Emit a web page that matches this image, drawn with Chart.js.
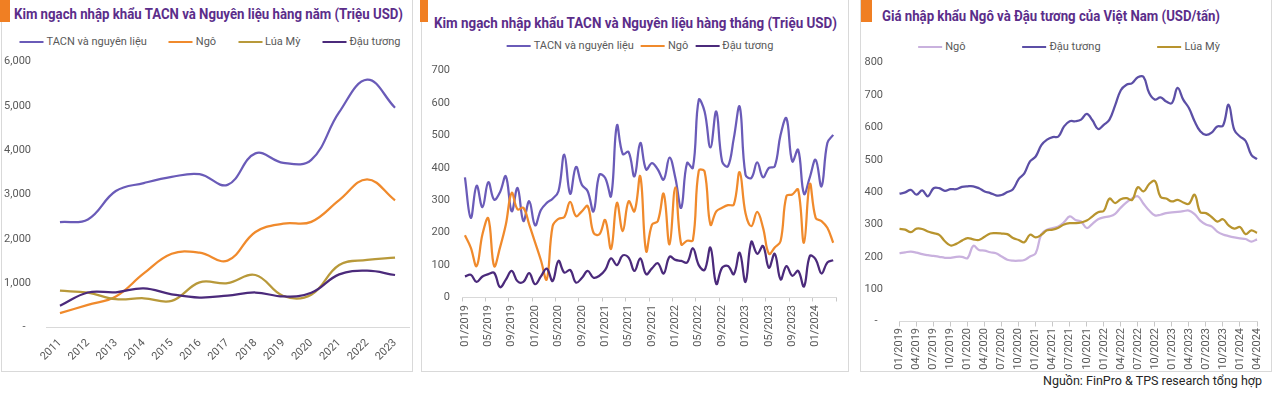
<!DOCTYPE html>
<html><head><meta charset="utf-8">
<script src="https://cdn.jsdelivr.net/npm/chart.js@4.4.1/dist/chart.umd.min.js"></script>
<style>
html,body{margin:0;padding:0;background:#fff;}
#wrap{position:relative;width:1272px;height:393px;overflow:hidden;background:#fff;font-family:Roboto,sans-serif;}
.box{position:absolute;border:1px solid #d9d9d9;border-top:none;box-sizing:border-box;}
.accent{position:absolute;background:#f07f23;}
.title{position:absolute;white-space:nowrap;font-family:Roboto,sans-serif;font-weight:bold;font-size:15px;color:#5b2d8a;line-height:1;transform-origin:0 50%;}
.legend{position:absolute;display:flex;align-items:center;white-space:nowrap;font-size:11px;color:#595959;line-height:12px;transform:translateX(-50%);}
.legend .it{display:flex;align-items:center;}
.legend .ln{display:inline-block;width:24px;height:2px;margin-right:3px;}
canvas{position:absolute;top:0;}
.src{position:absolute;right:10px;top:375px;font-size:12.5px;color:#262626;white-space:nowrap;line-height:1;}
</style></head>
<body>
<div id="wrap">
  <div class="box" style="left:1px;top:0;width:412px;height:372px"></div>
  <div class="box" style="left:421px;top:0;width:428px;height:372px"></div>
  <div class="box" style="left:860px;top:0;width:412px;height:372px"></div>
  <div class="accent" style="left:0;top:0;width:10px;height:22px"></div>
  <div class="accent" style="left:420px;top:0;width:8px;height:22px"></div>
  <div class="accent" style="left:861px;top:0;width:11px;height:22px"></div>
  <div class="title" data-w="389" style="left:14px;top:7px">Kim ngạch nhập khẩu TACN và Nguyên liệu hàng năm (Triệu USD)</div>
  <div class="title" data-w="403" style="left:434px;top:16px">Kim ngạch nhập khẩu TACN và Nguyên liệu hàng tháng (Triệu USD)</div>
  <div class="title" data-w="338" style="left:882px;top:8.5px">Giá nhập khẩu Ngô và Đậu tương của Việt Nam (USD/tấn)</div>
  <div class="legend" id="lg1" style="left:210px;top:36px;gap:22px"></div>
  <div class="legend" id="lg2" style="left:640px;top:40px;gap:7px"></div>
  <div class="legend" id="lg3" style="left:1069px;top:41px;gap:57px"></div>
  <canvas id="c1" width="415" height="372" style="left:0px;width:415px;height:372px"></canvas>
  <canvas id="c2" width="428" height="372" style="left:422px;width:428px;height:372px"></canvas>
  <canvas id="c3" width="412" height="372" style="left:860px;width:412px;height:372px"></canvas>
  <div class="src">Nguồn: FinPro &amp; TPS research tổng hợp</div>
</div>
<script>
// ---------- Panel 1: annual (million USD) ----------
const years = ['2011','2012','2013','2014','2015','2016','2017','2018','2019','2020','2021','2022','2023'];
const annTACN      = [2380, 2440, 3080, 3260, 3400, 3460, 3220, 3930, 3715, 3785, 4860, 5595, 4960];
const annNgo       = [325, 510, 700, 1220, 1665, 1690, 1510, 2155, 2345, 2385, 2875, 3345, 2870];
const annLuaMy     = [830, 785, 640, 660, 600, 1020, 1000, 1185, 710, 740, 1410, 1525, 1575];
const annDauTuong  = [490, 790, 795, 885, 750, 675, 720, 790, 700, 785, 1200, 1282, 1185];
const yTicks1 = {min:0, max:6000, step:1000};

// ---------- Months 01/2019 - 04/2024 ----------
const months = ['01/2019','02/2019','03/2019','04/2019','05/2019','06/2019','07/2019','08/2019','09/2019','10/2019','11/2019','12/2019',
'01/2020','02/2020','03/2020','04/2020','05/2020','06/2020','07/2020','08/2020','09/2020','10/2020','11/2020','12/2020',
'01/2021','02/2021','03/2021','04/2021','05/2021','06/2021','07/2021','08/2021','09/2021','10/2021','11/2021','12/2021',
'01/2022','02/2022','03/2022','04/2022','05/2022','06/2022','07/2022','08/2022','09/2022','10/2022','11/2022','12/2022',
'01/2023','02/2023','03/2023','04/2023','05/2023','06/2023','07/2023','08/2023','09/2023','10/2023','11/2023','12/2023',
'01/2024','02/2024','03/2024','04/2024'];

// ---------- Panel 2: monthly (million USD) ----------
const monTACN = [371,246,345,279,356,302,325,374,266,338,236,297,223,270,292,305,328,441,320,403,348,328,266,379,369,313,531,443,449,374,477,395,415,395,364,432,369,277,415,400,610,574,463,574,420,405,492,589,379,369,417,371,400,405,502,553,420,456,320,371,425,343,477,502];
const monNgo = [192,154,97,195,244,97,154,225,323,272,277,225,170,115,56,220,243,248,295,251,266,282,200,195,239,150,292,205,297,266,374,143,225,236,320,164,340,164,175,177,391,389,225,266,277,285,287,387,260,220,264,215,135,154,174,313,318,333,169,350,246,236,215,169];
const monDauTuong = [65,70,48,65,72,76,32,55,82,50,48,75,41,65,89,51,113,77,85,46,60,82,61,67,85,121,100,130,123,82,121,72,90,106,74,126,116,113,108,152,100,85,154,42,92,97,72,138,48,172,135,159,92,135,56,97,67,82,34,128,118,74,108,115];
const yTicks2 = {min:0, max:700, step:100};

// ---------- Panel 3: import price (USD/tonne) ----------
const priceNgo = [211,214,216,213,208,205,203,200,197,197,200,200,196,234,221,219,214,211,201,191,188,188,190,201,211,270,284,289,294,307,325,314,309,289,302,316,322,325,333,352,368,380,387,364,343,328,330,335,337,339,341,343,332,312,300,294,278,269,264,260,257,255,247,254];
const priceDauTuong = [395,399,407,392,405,387,412,412,404,409,409,416,418,418,412,402,397,390,391,400,409,440,458,495,510,545,562,570,572,603,619,619,624,642,622,595,608,624,668,715,732,737,755,756,706,686,693,680,675,722,686,660,619,588,577,584,603,605,670,592,572,558,515,502];
const priceLuaMy = [286,284,276,287,286,278,273,268,248,235,240,250,258,254,252,262,272,273,272,270,258,252,245,268,260,268,282,284,290,300,304,304,306,312,325,338,342,380,366,378,381,376,415,402,425,434,385,380,371,376,368,364,392,338,335,323,309,316,297,287,292,270,282,274];
const yTicks3 = {min:0, max:800, step:100};

const FONT = {family:'Roboto', size:11};
const TXT = '#595959';
const AXIS = '#d9d9d9';

// fit title widths to the reference widths
document.querySelectorAll('.title').forEach(el=>{
  const w = el.getBoundingClientRect().width;
  const target = parseFloat(el.dataset.w);
  if (w > 0) el.style.transform = 'scaleX(' + (target / w) + ')';
});

function ds(label, data, color, order){
  return {label, data, borderColor:color, backgroundColor:color, borderWidth:2.25,
          pointRadius:0, pointHoverRadius:0, tension:0.4, fill:false, order};
}
function legend(id, datasets){
  const el = document.getElementById(id);
  datasets.forEach(d=>{
    const it = document.createElement('span'); it.className='it';
    const ln = document.createElement('span'); ln.className='ln'; ln.style.background=d.borderColor;
    const tx = document.createElement('span'); tx.textContent=d.label;
    it.appendChild(ln); it.appendChild(tx); el.appendChild(it);
  });
}
function yAxis(t, width, pad, zeroDash){
  return {min:t.min, max:t.max, grid:{display:false, drawTicks:false}, border:{display:false},
    ticks:{stepSize:t.step, padding:pad, color:TXT, font:FONT,
      callback:v=> (v===0 && zeroDash) ? '-  ' : v.toLocaleString('en-US')},
    afterFit:s=>{s.width=width;}};
}
Chart.defaults.font.family='Roboto';

// Panel 1
const d1 = [ds('TACN và nguyên liệu', annTACN, '#6a5bb8', 4), ds('Ngô', annNgo, '#f08a2c', 3),
            ds('Lúa Mỳ', annLuaMy, '#b8993a', 2), ds('Đậu tương', annDauTuong, '#4b2a7b', 1)];
legend('lg1', d1);
new Chart(document.getElementById('c1'), {
  type:'line', data:{labels:years, datasets:d1},
  options:{responsive:false, animation:false, devicePixelRatio:1,
    layout:{padding:{top:61.7, left:0, right:6, bottom:0}},
    plugins:{legend:{display:false}, tooltip:{enabled:false}},
    scales:{
      x:{offset:true, grid:{display:false, drawTicks:false}, border:{display:true, color:AXIS, width:1},
         ticks:{autoSkip:false, minRotation:45, maxRotation:45, padding:9, color:TXT, font:FONT},
         afterFit:s=>{s.height=44.5;}},
      y:yAxis(yTicks1, 46, 15, true)
    }}
});

// Panel 2
const d2 = [ds('TACN và nguyên liệu', monTACN, '#6a5bb8', 3), ds('Ngô', monNgo, '#f08a2c', 2),
            ds('Đậu tương', monDauTuong, '#4b2a7b', 1)];
legend('lg2', d2);
new Chart(document.getElementById('c2'), {
  type:'line', data:{labels:months, datasets:d2},
  options:{responsive:false, animation:false, devicePixelRatio:1,
    layout:{padding:{top:70.7, left:0, right:13, bottom:0}},
    plugins:{legend:{display:false}, tooltip:{enabled:false}},
    scales:{
      x:{offset:true,
         grid:{display:true, offset:true, drawOnChartArea:false, drawTicks:true, tickLength:4,
               color:c=> (c.index===undefined || c.index%4===0) ? '#c8c8c8' : 'rgba(0,0,0,0)'},
         border:{display:true, color:AXIS, width:1},
         ticks:{autoSkip:false, minRotation:90, maxRotation:90, padding:3.5, color:TXT, font:FONT,
                callback:(v,i)=> i%4===0 ? months[i] : ''},
         afterFit:s=>{s.height=74.5;}},
      y:yAxis(yTicks2, 40, 12, false)
    }}
});

// Panel 3
const d3 = [ds('Ngô', priceNgo, '#c9b1de', 3), ds('Đậu tương', priceDauTuong, '#5c4fa6', 2),
            ds('Lúa Mỳ', priceLuaMy, '#b8942e', 1)];
legend('lg3', d3);
new Chart(document.getElementById('c3'), {
  type:'line', data:{labels:months, datasets:d3},
  options:{responsive:false, animation:false, devicePixelRatio:1,
    layout:{padding:{top:62.7, left:0, right:15, bottom:0}},
    plugins:{legend:{display:false}, tooltip:{enabled:false}},
    scales:{
      x:{offset:false,
         grid:{display:true, drawOnChartArea:false, drawTicks:true, tickLength:5,
               color:c=> (c.index!==undefined && c.index%3===0) ? '#c8c8c8' : 'rgba(0,0,0,0)'},
         border:{display:true, color:AXIS, width:1},
         ticks:{autoSkip:false, minRotation:90, maxRotation:90, padding:1.5, color:TXT, font:FONT,
                callback:(v,i)=> i%3===0 ? months[i] : ''},
         afterFit:s=>{s.height=50.5;}},
      y:yAxis(yTicks3, 39.5, 16.5, true)
    }}
});
</script>
</body></html>
